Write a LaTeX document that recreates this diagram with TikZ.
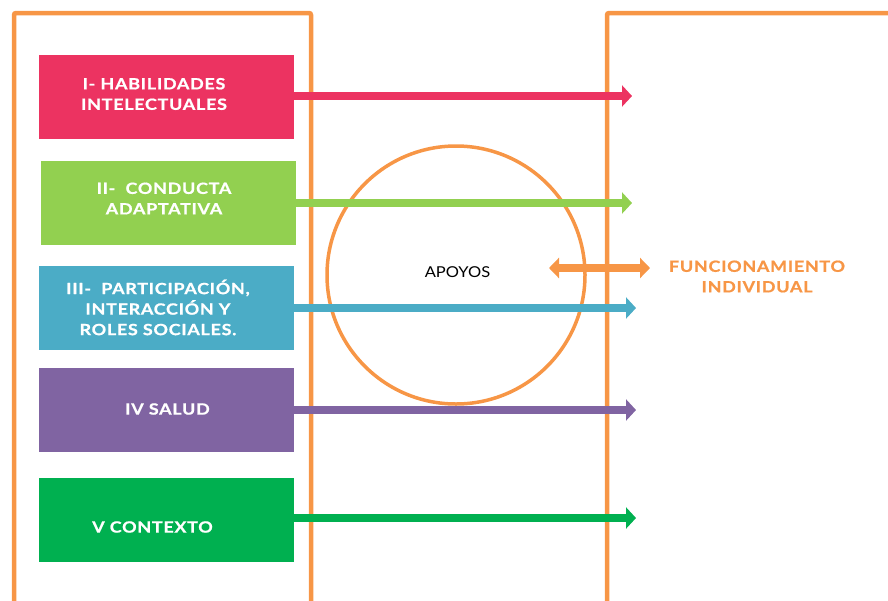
\documentclass[tikz,border=0pt]{standalone}
\usepackage{fontspec}
\setmainfont{Lato}
\newfontfamily\catfont{Lato}[FakeStretch=1.16, LetterSpace=4.5, FakeBold=0.8]
\newfontfamily\apofont{Lato}[FakeStretch=1.1]
\usetikzlibrary{arrows.meta}
\definecolor{cred}{HTML}{EC3361}
\definecolor{clgreen}{HTML}{92D050}
\definecolor{cblue}{HTML}{4BACC6}
\definecolor{cpurple}{HTML}{8064A2}
\definecolor{cgreen}{HTML}{00B050}
\definecolor{corange}{HTML}{F79646}
\tikzset{
  frame/.style={draw=corange, line width=4.5pt, rounded corners=2pt},
  catbox/.style={draw=none, minimum width=255pt, minimum height=84pt, inner sep=0pt},
  cattext/.style={text=white, font=\catfont\bfseries\fontsize{15.5}{20.5}\selectfont, align=center, inner sep=0pt},
  catarrow/.style={line width=8.5pt, -{Triangle[width=21pt,length=10pt]}},
}
\begin{document}
\begin{tikzpicture}[x=1pt,y=-1pt]
\useasboundingbox (0,0) rectangle (888,600);
% frames
\draw[frame] (14,602) -- (14,13) -- (311,13) -- (311,602);
\draw[frame] (607,602) -- (607,13) -- (890,13);
% circle
\node[draw=corange, line width=3.5pt, circle, minimum size=258pt, inner sep=0pt] (circ) at (456,275) {};
\node[font=\apofont\fontsize{15}{17}\selectfont, inner sep=0pt] (apoyos) at (457.5,272) {APOYOS};
% boxes
\node[catbox, fill=cred] (b1) at (166.5,97) {};
\node[catbox, fill=clgreen] (b2) at (168.5,202.5) {};
\node[catbox, fill=cblue] (b3) at (166.5,308) {};
\node[catbox, fill=cpurple] (b4) at (166.5,409.5) {};
\node[catbox, fill=cgreen] (b5) at (166.5,519.5) {};
% texts
\node[cattext] (t1) at (154,94) {I- HABILIDADES\\INTELECTUALES};
\node[cattext] (t2) at (164,198.5) {II-\ \ CONDUCTA\\ADAPTATIVA};
\node[cattext] (t3) at (158,307.5) {III-\ \ PARTICIPACIÓN,\\INTERACCIÓN Y\\ROLES SOCIALES.};
\node[cattext] (t4) at (167.5,409) {IV SALUD};
\node[cattext] (t5) at (152.5,527) {V CONTEXTO};
% arrow ends
\coordinate (e1) at (632,96);
\coordinate (e2) at (632,203);
\coordinate (e3) at (636,308);
\coordinate (e4) at (636,410);
\coordinate (e5) at (636,518);
\draw[catarrow, cred] (b1.east |- e1) -- (e1);
\draw[catarrow, clgreen] (b2.east |- e2) -- (e2);
\draw[catarrow, cblue] (b3.east |- e3) -- (e3);
\draw[catarrow, cpurple] (b4.east |- e4) -- (e4);
\draw[catarrow, cgreen] (b5.east |- e5) -- (e5);
% double arrow
\coordinate (dl) at (549,268);
\coordinate (dr) at (650,268);
\draw[corange, line width=8pt, {Triangle[width=20pt,length=10pt]}-{Triangle[width=20pt,length=10pt]}] (dl) -- (dr);
\node[text=corange, font=\catfont\bfseries\fontsize{15.5}{20.5}\selectfont, align=center, inner sep=0pt] (func) at (757,276.5) {FUNCIONAMIENTO\\INDIVIDUAL};
\end{tikzpicture}
\end{document}
